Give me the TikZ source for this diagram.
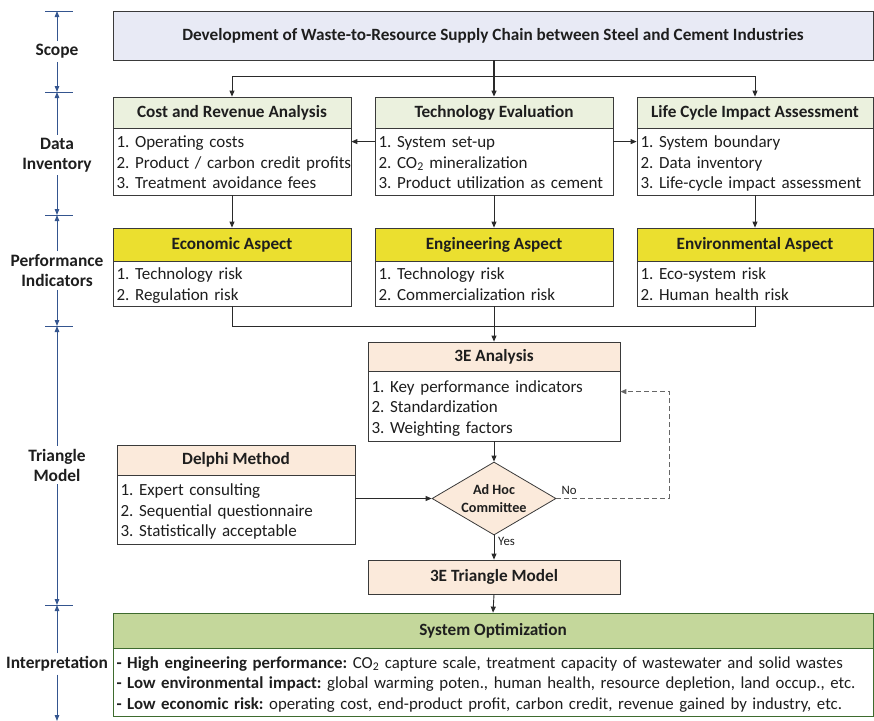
\documentclass[tikz,border=0pt]{standalone}
\usepackage{fontspec}
\setmainfont{Carlito}
\usetikzlibrary{arrows.meta,shapes.geometric}
\frenchspacing
\newcommand\itemlines[1]{\raisebox{-2.6pt}[\height][\depth]{\begin{tabular}{@{}l@{}}#1\end{tabular}}}
\definecolor{txt}{HTML}{1E1E1E}
\definecolor{boxline}{HTML}{3A3A3A}
\definecolor{lineC}{HTML}{2A2A2A}
\definecolor{titleC}{HTML}{E8EAF5}
\definecolor{greenH}{HTML}{EBF1DE}
\definecolor{yellowH}{HTML}{EBDF2F}
\definecolor{peach}{HTML}{FBEADB}
\definecolor{sysG}{HTML}{C4D79B}
\definecolor{sysline}{HTML}{3E6B2E}
\definecolor{scaleC}{HTML}{34558F}
\tikzset{
  bx/.style={draw=boxline, line width=0.8pt, inner sep=0pt, text=txt},
  hd/.style={bx, font=\bfseries\fontsize{17.2}{19}\selectfont, fill=#1},
  bd/.style={bx, fill=white, inner xsep=3.5pt, inner ysep=0pt, align=left, font=\fontsize{17}{20.7}\selectfont},
  arr/.style={draw=lineC, line width=0.9pt, -{Triangle[length=6pt,width=5pt]}},
  ln/.style={draw=lineC, line width=0.9pt},
  sc/.style={draw=scaleC, line width=1pt},
  scarr/.style={sc, -{Triangle[length=6pt,width=4.5pt]}},
  sclab/.style={font=\bfseries\fontsize{17.4}{20}\selectfont, align=center, text=txt, inner sep=3pt},
  small/.style={font=\fontsize{12.8}{14}\selectfont, text=txt, inner sep=1pt}
}
\begin{document}
\begin{tikzpicture}[x=1pt,y=-1pt]
\useasboundingbox (0,0) rectangle (874,720);

% ---- scale bar ----
\foreach \y/\n in {11/t0,92/t1,215/t2,326/t3,605/t4}{
  \coordinate (\n) at (57,\y);
  \draw[sc] (45,\y) -- (73,\y);
}
\coordinate (t5) at (57,721);
\node[sclab] (s1) at (57,51.5) {Scope};
\node[sclab] (s2) at (57,155) {Data\\Inventory};
\node[sclab] (s3) at (57,270.5) {Performance\\Indicators};
\node[sclab] (s4) at (57,465) {Triangle\\Model};
\node[sclab] (s5) at (57,664) {Interpretation};
\draw[scarr] (s1.north) -- (t0);
\draw[scarr] (s1.south) -- (t1);
\draw[scarr] (s2.north) -- (t1);
\draw[scarr] (s2.south) -- (t2);
\draw[scarr] (s3.north) -- (t2);
\draw[scarr] (s3.south) -- (t3);
\draw[scarr] (s4.north) -- (t3);
\draw[scarr] (s4.south) -- (t4);
\draw[scarr] (s5.north) -- (t4);
\draw[scarr] (s5.south) -- (t5);

% ---- title ----
\node[hd=titleC, minimum width=760pt, minimum height=49pt] (title) at (493,35.5)
  {Development of Waste-to-Resource Supply Chain between Steel and Cement Industries};

% ---- data inventory row ----
\node[hd=greenH, minimum width=238pt, minimum height=31pt] (cost-h) at (232,112.5) {Cost and Revenue Analysis};
\node[bd, minimum width=238pt, minimum height=67pt, text width=231pt] (cost-b) at (232,161.5)
  {\itemlines{1. Operating costs\\2. Product / carbon credit profits\\3. Treatment avoidance fees}};
\node[hd=greenH, minimum width=238pt, minimum height=31pt] (tech-h) at (494,112.5) {Technology Evaluation};
\node[bd, minimum width=238pt, minimum height=67pt, text width=231pt] (tech-b) at (494,161.5)
  {\itemlines{1. System set-up\\2. CO\textsubscript{2} mineralization\\3. Product utilization as cement}};
\node[hd=greenH, minimum width=236pt, minimum height=31pt] (lca-h) at (755,112.5) {Life Cycle Impact Assessment};
\node[bd, minimum width=236pt, minimum height=67pt, text width=229pt] (lca-b) at (755,161.5)
  {\itemlines{1. System boundary\\2. Data inventory\\3. Life-cycle impact assessment}};

% ---- performance indicators row ----
\node[hd=yellowH, minimum width=238pt, minimum height=33pt] (eco-h) at (232,244.5) {Economic Aspect};
\node[bd, minimum width=238pt, minimum height=45pt, text width=231pt] (eco-b) at (232,283.5)
  {\itemlines{1. Technology risk\\2. Regulation risk}};
\node[hd=yellowH, minimum width=238pt, minimum height=33pt] (eng-h) at (494,244.5) {Engineering Aspect};
\node[bd, minimum width=238pt, minimum height=45pt, text width=231pt] (eng-b) at (494,283.5)
  {\itemlines{1. Technology risk\\2. Commercialization risk}};
\node[hd=yellowH, minimum width=236pt, minimum height=33pt] (env-h) at (755,244.5) {Environmental Aspect};
\node[bd, minimum width=236pt, minimum height=45pt, text width=229pt] (env-b) at (755,283.5)
  {\itemlines{1. Eco-system risk\\2. Human health risk}};

% ---- triangle model ----
\node[hd=peach, minimum width=252pt, minimum height=29pt] (ana-h) at (494,356.5) {3E Analysis};
\node[bd, minimum width=252pt, minimum height=70pt, text width=245pt] (ana-b) at (494,406)
  {\itemlines{1. Key performance indicators\\2. Standardization\\3. Weighting factors}};
\node[hd=peach, minimum width=238pt, minimum height=30pt] (del-h) at (236,460) {Delphi Method};
\node[bd, minimum width=238pt, minimum height=69pt, text width=231pt] (del-b) at (236,509.5)
  {\itemlines{1. Expert consulting\\2. Sequential questionnaire\\3. Statistically acceptable}};
\node[diamond, draw=boxline, line width=0.8pt, fill=peach, minimum width=124pt, minimum height=73pt,
  inner sep=0pt, aspect=1.7, text=txt, font=\bfseries\fontsize{14.2}{18}\selectfont, align=center]
  (dia) at (494,498.5) {Ad Hoc\\Committee};
\node[hd=peach, minimum width=252pt, minimum height=34pt] (tri) at (494,577) {3E Triangle Model};

% ---- interpretation ----
\node[hd=sysG, draw=sysline, minimum width=760pt, minimum height=35pt] (sys-h) at (493,630.5) {System Optimization};
\node[bd, draw=sysline, minimum width=760pt, minimum height=68pt, text width=753pt,
  font=\fontsize{16.8}{20.7}\selectfont] (sys-b) at (493,682)
  {\itemlines{\textbf{- High engineering performance:} CO\textsubscript{2} capture scale, treatment capacity of wastewater and solid wastes\\
   \textbf{- Low environmental impact:} global warming poten., human health, resource depletion, land occup., etc.\\
   \textbf{- Low economic risk:} operating cost, end-product profit, carbon credit, revenue gained by industry, etc.}};

% ---- connectors ----
\coordinate (j1) at (494,76);
\draw[arr, line width=1.2pt] (title.south -| tech-h.north) -- (tech-h.north);
\draw[arr] (j1) -| (cost-h.north);
\draw[arr] (j1) -| (lca-h.north);
\draw[arr] ([yshift=-14pt]tech-b.north west) -- ([yshift=-14pt]cost-b.north east);
\draw[arr] ([yshift=-14pt]tech-b.north east) -- ([yshift=-14pt]lca-b.north west);
\draw[arr] (cost-b.south) -- (eco-h.north);
\draw[arr] (tech-b.south) -- (eng-h.north);
\draw[arr] (lca-b.south) -- (env-h.north);
\coordinate (m1) at (494,326);
\draw[ln] (eco-b.south) |- (m1);
\draw[ln] (env-b.south) |- (m1);
\draw[arr] (eng-b.south) -- (ana-h.north);
\draw[arr] (ana-b.south) -- (dia.north);
\draw[arr] (del-b.east |- dia.west) -- (dia.west);
\coordinate (fb) at (669,498.5);
\draw[arr, dashed, draw=black!60, dash pattern=on 5pt off 3pt] (dia.east) -- (fb) |- ([yshift=-21pt]ana-b.north east);
\node[small, anchor=south west] (no) at ([xshift=4pt,yshift=2.5pt]dia.east) {No};
\draw[arr] (dia.south) -- (tri.north);
\node[small, anchor=west] (yes) at ([xshift=3pt,yshift=-6pt]dia.south) {Yes};
\draw[arr] (tri.south) -- (sys-h.north);
\end{tikzpicture}
\end{document}
